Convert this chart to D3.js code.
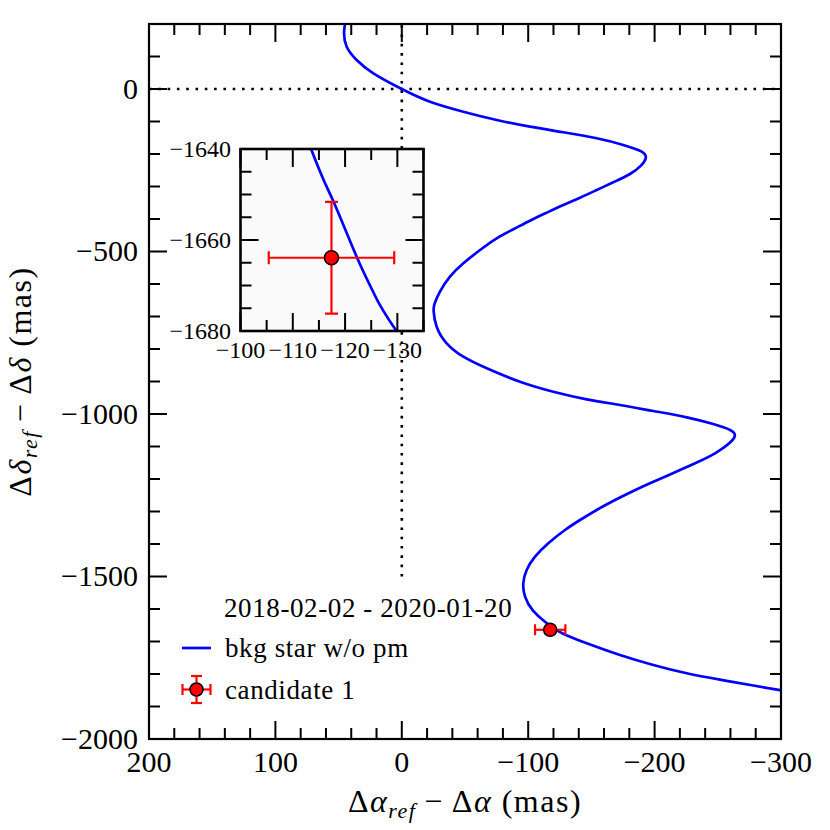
<!DOCTYPE html>
<html lang="en">
<head>
<meta charset="utf-8">
<title>Background star track</title>
<script src="https://cdn.jsdelivr.net/npm/d3@7"></script>
<style>
  body { margin: 0; background: #fff; }
  svg text { font-family: "Liberation Serif", "Times New Roman", "DejaVu Serif", "Noto Serif", serif; fill: #000; }
</style>
</head>
<body>
<div id="chart"></div>
<script>
// background star track (mas)
const bkgRa  = [44.0, 44.9, 45.7, 43.6, 35.7, 22.5, 0, -22.3, -48.7, -75.1, -101.4, -127.8, -154.2, -175.2, -189.8,
                -193.0, -189.4, -180.5, -167.3, -154.2, -141.0, -127.8, -114.6, -101.4, -88.2, -75.1, -61.9,
                -48.7, -38.1, -30.2, -26.0, -25.2, -27.6, -35.5, -48.7, -67.2, -93.5, -119.9, -146.3, -172.6,
                -199.0, -225.4, -246.4, -259.7, -263.5, -259.7, -247.8, -234.6, -221.4, -208.2, -195.0, -181.9, -168.7,
                -155.5, -142.3, -129.1, -115.9, -105.4, -98.8, -96.1, -97.5, -103.8, -113.5, -117.8, -122.3, -125.5,
                -129.7, -146.3, -172.6, -199.0, -225.4, -251.7, -278.1, -299.2, -310.0];
const bkgDec = [230, 200, 171.4, 130.2, 89.2, 48.3, 0, -39.1, -69.8, -95.4, -116.0, -133.2, -151.7, -172.3, -192.9,
                -212.0, -235.0, -261.5, -287.1, -310.8, -334.5, -356.9, -380.6, -405.2, -431.7, -459.4, -495.4,
                -536.3, -577.5, -623.7, -660.0, -684.0, -731.4, -782.5, -823.7, -859.4, -900.6, -931.4, -954.8, -972.3,
                -990.8, -1010.2, -1030.8, -1049.0, -1065.0, -1088.0, -1120.9, -1146.8, -1170.2, -1192.9, -1215.4, -1239.1, -1264.6,
                -1292.3, -1323.1, -1356.9, -1397.8, -1439.1, -1480.0, -1521.0, -1562.0, -1605.0, -1640.0, -1651.6, -1663.9, -1671.7,
                -1679.8, -1705.5, -1741.5, -1772.3, -1797.8, -1817.5, -1835.5, -1849.5, -1856.0];

const candRa = [-117.4];
const candDec = [-1663.9];
const candRaErr = [12.0];
const candDecErr = [12.3];

const xTicks = [200, 100, 0, -100, -200, -300];
const yTicks = [0, -500, -1000, -1500, -2000];
const insetXTicks = [-100, -110, -120, -130];
const insetYTicks = [-1640, -1660, -1680];
const legendTitle = "2018-02-02 - 2020-01-20";
const seriesNames = ["bkg star w/o pm", "candidate 1"];

const W = 830, H = 830;
const L = 149, R = 781, T = 24, B = 739;
const FONT = "'Liberation Serif', 'Times New Roman', 'DejaVu Serif', 'Noto Serif', serif";

const svg = d3.select("#chart").append("svg")
  .attr("width", W).attr("height", H)
  .attr("font-family", FONT);
svg.append("rect").attr("width", W).attr("height", H).attr("fill", "#fff");

const x = d3.scaleLinear().domain([200, -300]).range([L, R]);
const y = d3.scaleLinear().domain([-2000, 200]).range([B, T]);

const pts = bkgRa.map((d, i) => [d, bkgDec[i]]);
const fmt = d => d < 0 ? "\u2212" + Math.abs(d) : String(d);

const defs = svg.append("defs");
defs.append("clipPath").attr("id", "mainClip")
  .append("rect").attr("x", L).attr("y", T).attr("width", R - L).attr("height", B - T);

// dotted reference lines
const main = svg.append("g").attr("clip-path", "url(#mainClip)");
main.append("line")
  .attr("x1", L).attr("x2", R).attr("y1", y(0)).attr("y2", y(0))
  .attr("stroke", "#000").attr("stroke-width", 2.6).attr("stroke-dasharray", "2.6,6.7");
main.append("line")
  .attr("x1", x(0)).attr("x2", x(0)).attr("y1", y(-1500)).attr("y2", T)
  .attr("stroke", "#000").attr("stroke-width", 2.6).attr("stroke-dasharray", "2.6,6.7");

const line = d3.line().curve(d3.curveNatural);

main.append("path")
  .attr("d", line(pts.map(p => [x(p[0]), y(p[1])])))
  .attr("fill", "none").attr("stroke", "#0000ff").attr("stroke-width", 2.7);

function errMarker(g, cx, cy, ex, ey, cap, r) {
  g.append("line").attr("x1", cx - ex).attr("x2", cx + ex).attr("y1", cy).attr("y2", cy);
  g.append("line").attr("x1", cx).attr("x2", cx).attr("y1", cy - ey).attr("y2", cy + ey);
  [cx - ex, cx + ex].forEach(v => g.append("line").attr("x1", v).attr("x2", v).attr("y1", cy - cap).attr("y2", cy + cap));
  [cy - ey, cy + ey].forEach(v => g.append("line").attr("y1", v).attr("y2", v).attr("x1", cx - cap).attr("x2", cx + cap));
  g.selectAll("line").attr("stroke", "#ff0000").attr("stroke-width", 2.2);
  g.append("circle").attr("cx", cx).attr("cy", cy).attr("r", r)
    .attr("fill", "#ff0000").attr("stroke", "#000").attr("stroke-width", 1.5);
}

candRa.forEach((d, i) => {
  const g = main.append("g");
  errMarker(g, x(d), y(candDec[i]),
    Math.abs(x(d + candRaErr[i]) - x(d)), Math.abs(y(candDec[i] + candDecErr[i]) - y(candDec[i])), 5.5, 6.5);
});

// ticks on all four sides, pointing inward
function ticks(g, scale, vals, side, len, lo, hi) {
  vals.forEach(v => {
    const p = scale(v);
    if (side === "b") g.append("line").attr("x1", p).attr("x2", p).attr("y1", hi).attr("y2", hi - len);
    if (side === "t") g.append("line").attr("x1", p).attr("x2", p).attr("y1", lo).attr("y2", lo + len);
    if (side === "l") g.append("line").attr("y1", p).attr("y2", p).attr("x1", lo).attr("x2", lo + len);
    if (side === "r") g.append("line").attr("y1", p).attr("y2", p).attr("x1", hi).attr("x2", hi - len);
  });
}

const ax = svg.append("g").attr("stroke", "#000").attr("stroke-width", 2);
const xMinor = d3.range(-300, 201, 20).filter(v => v % 100 !== 0);
const yMinor = d3.range(-2000, 201, 100).filter(v => v % 500 !== 0);
ticks(ax, x, xTicks, "b", 18, T, B); ticks(ax, x, xTicks, "t", 18, T, B);
ticks(ax, x, xMinor, "b", 11, T, B); ticks(ax, x, xMinor, "t", 11, T, B);
ticks(ax, y, yTicks, "l", 18, L, R); ticks(ax, y, yTicks, "r", 18, L, R);
ticks(ax, y, yMinor, "l", 11, L, R); ticks(ax, y, yMinor, "r", 11, L, R);
svg.append("rect").attr("x", L).attr("y", T).attr("width", R - L).attr("height", B - T)
  .attr("fill", "none").attr("stroke", "#000").attr("stroke-width", 2.2);

svg.append("g").selectAll("text").data(xTicks).join("text")
  .attr("x", d => x(d)).attr("y", 772).attr("text-anchor", "middle")
  .attr("font-size", 30).text(fmt);
svg.append("g").selectAll("text").data(yTicks).join("text")
  .attr("x", 138).attr("y", d => y(d)).attr("dy", "0.33em").attr("text-anchor", "end")
  .attr("font-size", 30).text(fmt);

// axis titles
const xl = svg.append("text").attr("x", (L + R) / 2).attr("y", 812)
  .attr("text-anchor", "middle").attr("font-size", 32).attr("letter-spacing", 1.5);
xl.append("tspan").text("\u0394");
xl.append("tspan").attr("font-style", "italic").text("\u03b1");
xl.append("tspan").attr("font-style", "italic").attr("font-size", 22).attr("dy", 6).text("ref");
xl.append("tspan").attr("dy", -6).text("\u2009\u2212\u2009\u0394");
xl.append("tspan").attr("font-style", "italic").text("\u03b1");
xl.append("tspan").text(" (mas)");

const yl = svg.append("text").attr("transform", `translate(31,${(T + B) / 2}) rotate(-90)`)
  .attr("text-anchor", "middle").attr("font-size", 32).attr("letter-spacing", 1.5);
yl.append("tspan").text("\u0394");
yl.append("tspan").attr("font-style", "italic").text("\u03b4");
yl.append("tspan").attr("font-style", "italic").attr("font-size", 22).attr("dy", 6).text("ref");
yl.append("tspan").attr("dy", -6).text("\u2009\u2212\u2009\u0394");
yl.append("tspan").attr("font-style", "italic").text("\u03b4");
yl.append("tspan").text(" (mas)");

// legend
const lg = svg.append("g").attr("font-size", 27).attr("letter-spacing", 0.6);
lg.append("text").attr("x", 224).attr("y", 617).text(legendTitle);
lg.append("line").attr("x1", 182).attr("x2", 211).attr("y1", 648).attr("y2", 648)
  .attr("stroke", "#0000ff").attr("stroke-width", 2.7);
lg.append("text").attr("x", 225).attr("y", 657).text(seriesNames[0]);
errMarker(lg.append("g"), 196.5, 689.5, 14, 13.5, 5.5, 6.5);
lg.append("text").attr("x", 225).attr("y", 699).text(seriesNames[1]);

// inset
const iL = 240.5, iR = 423.5, iT = 149, iB = 331;
const ix = d3.scaleLinear().domain([-100, -135]).range([iL, iR]);
const iy = d3.scaleLinear().domain([-1680, -1640]).range([iB, iT]);
defs.append("clipPath").attr("id", "insetClip")
  .append("rect").attr("x", iL).attr("y", iT).attr("width", iR - iL).attr("height", iB - iT);

svg.append("rect").attr("x", iL).attr("y", iT).attr("width", iR - iL).attr("height", iB - iT)
  .attr("fill", "#fafafa");
const ins = svg.append("g").attr("clip-path", "url(#insetClip)");
ins.append("path")
  .attr("d", line(pts.map(p => [ix(p[0]), iy(p[1])])))
  .attr("fill", "none").attr("stroke", "#0000ff").attr("stroke-width", 2.7);
candRa.forEach((d, i) => {
  const g = ins.append("g");
  errMarker(g, ix(d), iy(candDec[i]),
    Math.abs(ix(d + candRaErr[i]) - ix(d)), Math.abs(iy(candDec[i] + candDecErr[i]) - iy(candDec[i])), 6.5, 7);
});

const iax = svg.append("g").attr("stroke", "#000").attr("stroke-width", 2);
const ixMinor = d3.range(-135, -99, 5).filter(v => v % 10 !== 0);
const iyMinor = d3.range(-1680, -1639, 5).filter(v => v % 20 !== 0);
ticks(iax, ix, insetXTicks, "b", 18, iT, iB); ticks(iax, ix, insetXTicks, "t", 18, iT, iB);
ticks(iax, ix, ixMinor, "b", 11, iT, iB); ticks(iax, ix, ixMinor, "t", 11, iT, iB);
ticks(iax, iy, insetYTicks, "l", 18, iL, iR); ticks(iax, iy, insetYTicks, "r", 18, iL, iR);
ticks(iax, iy, iyMinor, "l", 11, iL, iR); ticks(iax, iy, iyMinor, "r", 11, iL, iR);
svg.append("rect").attr("x", iL).attr("y", iT).attr("width", iR - iL).attr("height", iB - iT)
  .attr("fill", "none").attr("stroke", "#000").attr("stroke-width", 2.6);

svg.append("g").selectAll("text").data(insetXTicks).join("text")
  .attr("x", d => ix(d)).attr("y", 358).attr("text-anchor", "middle")
  .attr("font-size", 24).text(fmt);
svg.append("g").selectAll("text").data(insetYTicks).join("text")
  .attr("x", 231).attr("y", d => iy(d)).attr("dy", "0.35em").attr("text-anchor", "end")
  .attr("font-size", 24).text(fmt);
</script>
</body>
</html>
